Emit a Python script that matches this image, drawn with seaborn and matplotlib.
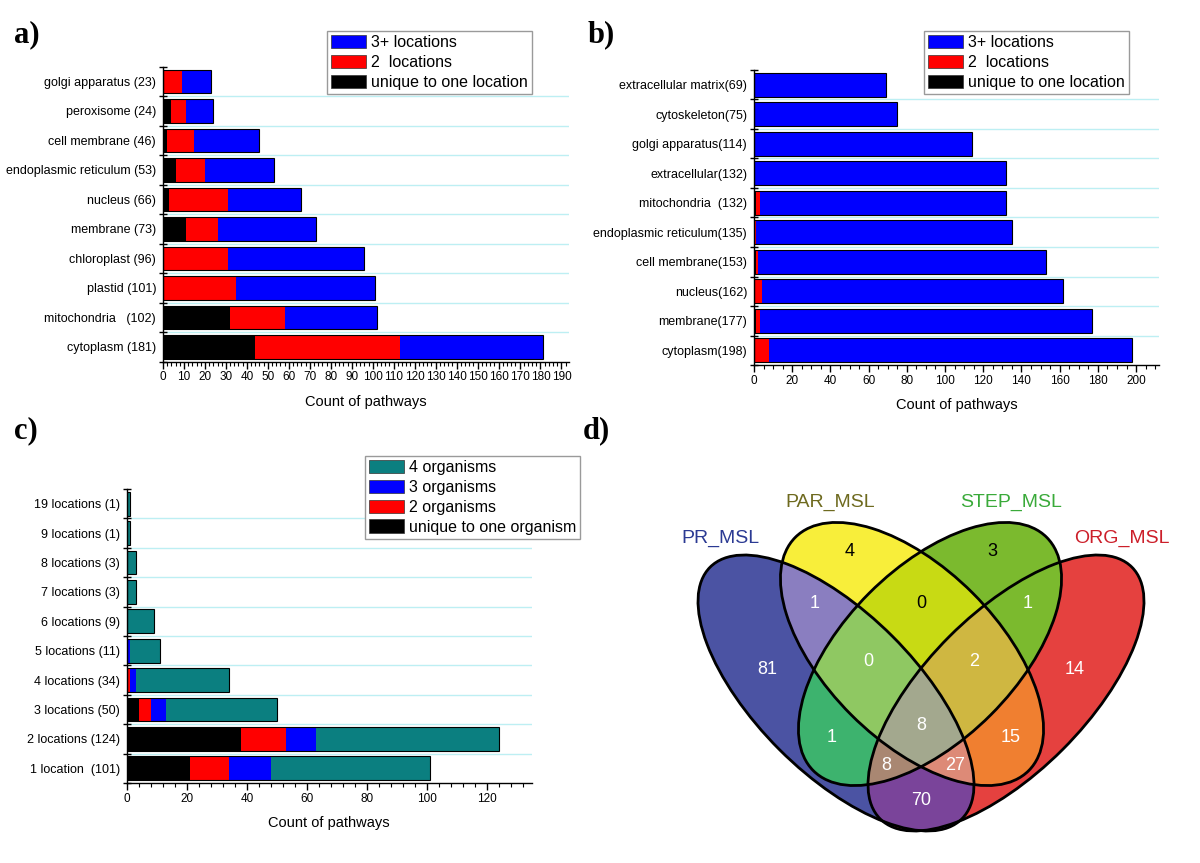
import numpy as np
import pandas as pd
import matplotlib
matplotlib.use("Agg")
import matplotlib.pyplot as plt
from matplotlib.patches import Ellipse, Patch
from matplotlib.colors import to_rgba
from matplotlib.ticker import MultipleLocator
import seaborn as sns

plt.rcParams['font.family'] = ['Liberation Sans', 'DejaVu Sans']

# ---------------- data ----------------
# a) pathways per location (all organisms)
a_labels = ['golgi apparatus (23)', 'peroxisome (24)', 'cell membrane (46)',
            'endoplasmic reticulum (53)', 'nucleus (66)', 'membrane (73)',
            'chloroplast (96)', 'plastid (101)', 'mitochondria   (102)', 'cytoplasm (181)']
a_unique = [0, 4, 2, 6, 3, 11, 0, 0, 32, 44]
a_two = [9, 7, 13, 14, 28, 15, 31, 35, 26, 69]
a_three = [14, 13, 31, 33, 35, 47, 65, 66, 44, 68]

# b) pathways per location
b_labels = ['extracellular matrix(69)', 'cytoskeleton(75)', 'golgi apparatus(114)',
            'extracellular(132)', 'mitochondria  (132)', 'endoplasmic reticulum(135)',
            'cell membrane(153)', 'nucleus(162)', 'membrane(177)', 'cytoplasm(198)']
b_unique = [0, 0, 0, 0, 1, 0, 1, 0, 1, 0]
b_two = [0, 0, 0, 0, 2, 1, 1, 4, 2, 8]
b_three = [69, 75, 114, 132, 129, 134, 151, 158, 174, 190]

loc_legend = ['3+ locations', '2  locations', 'unique to one location']

# c) number of locations per pathway, split by organisms
c_labels = ['19 locations (1)', '9 locations (1)', '8 locations (3)', '7 locations (3)',
            '6 locations (9)', '5 locations (11)', '4 locations (34)', '3 locations (50)',
            '2 locations (124)', '1 location  (101)']
c_unique = [0, 0, 0, 0, 0, 0, 0, 4, 38, 21]
c_two = [0, 0, 0, 0, 0, 0, 1, 4, 15, 13]
c_three = [0, 0, 0, 0, 0, 1, 2, 5, 10, 14]
c_four = [1, 1, 3, 3, 9, 10, 31, 37, 61, 53]

org_legend = ['4 organisms', '3 organisms', '2 organisms', 'unique to one organism']

# d) venn diagram (region bit mask: PR=1, PAR=2, STEP=4, ORG=8)
venn_sets = ['PR_MSL', 'PAR_MSL', 'STEP_MSL', 'ORG_MSL']
venn_masks = [1, 2, 4, 8, 3, 6, 12, 7, 14, 5, 10, 15, 13, 11, 9]
venn_counts = [81, 4, 3, 14, 1, 0, 1, 0, 2, 1, 15, 8, 8, 27, 70]

# ---------------- style ----------------
BLUE, RED, BLACK, TEAL = '#0000FF', '#FF0000', '#000000', '#0B7F80'
GRID = '#BDEFF3'
W, H = 1200, 863

fig = plt.figure(figsize=(12, 8.63), dpi=100)


def box(x0, y0, x1, y1):
    # pixel box with top-left origin -> figure fraction
    return [x0 / W, 1 - y1 / H, (x1 - x0) / W, (y1 - y0) / H]


def stacked_bars(ax, labels, parts, colors, xmax, major, minor):
    n = len(labels)
    cum = np.cumsum(np.array(parts, dtype=float), axis=0)
    df = pd.DataFrame({'label': labels})
    # draw cumulative totals from the longest down so they look stacked
    for k in range(len(parts) - 1, -1, -1):
        df['count'] = cum[k]
        sns.barplot(data=df, x='count', y='label', orient='h', color=colors[k],
                    saturation=1, width=0.81, linewidth=0, errorbar=None, ax=ax)
    df['count'] = cum[-1]
    sns.barplot(data=df, x='count', y='label', orient='h', fill=False, color='black',
                linewidth=0.8, width=0.81, errorbar=None, ax=ax)
    ax.hlines(np.arange(n - 1) + 0.5, 0, xmax, colors=GRID, linewidth=1, zorder=0)
    ax.set_xlim(0, xmax)
    ax.set_ylim(n - 0.5, -0.5)
    ax.xaxis.set_major_locator(MultipleLocator(major))
    ax.xaxis.set_minor_locator(MultipleLocator(minor))
    ax.set_yticks(np.arange(n + 1) - 0.5, minor=True)
    ax.tick_params(axis='y', which='major', length=0, pad=5, labelsize=9)
    ax.tick_params(axis='y', which='minor', length=6, width=1, direction='inout')
    ax.tick_params(axis='x', which='major', length=5, width=1, labelsize=8.5, pad=2)
    ax.tick_params(axis='x', which='minor', length=3, width=0.8)
    for s in ['top', 'right']:
        ax.spines[s].set_visible(False)
    for s in ['left', 'bottom']:
        ax.spines[s].set_linewidth(1)
    ax.set_ylabel('')
    ax.set_xlabel('Count of pathways', fontsize=10.5, labelpad=8)


def add_legend(ax, names, colors, x0, y0):
    handles = [Patch(facecolor=c, edgecolor='#333333', linewidth=0.5) for c in colors]
    ax.legend(handles, names, loc='upper left', bbox_to_anchor=(x0 / W, 1 - y0 / H),
              bbox_transform=fig.transFigure, fontsize=11.5, frameon=True, fancybox=False,
              edgecolor='#9a9a9a', framealpha=1, borderpad=0.25, labelspacing=0.3,
              handlelength=2.2, handleheight=0.9, handletextpad=0.3, borderaxespad=0)


# a)
ax_a = fig.add_axes(box(163, 66.7, 569, 361.7))
stacked_bars(ax_a, a_labels, [a_unique, a_two, a_three], [BLACK, RED, BLUE], 193.6, 10, 2)
add_legend(ax_a, loc_legend, [BLUE, RED, BLACK], 327, 30.7)

# b)
ax_b = fig.add_axes(box(754, 70, 1159, 365))
stacked_bars(ax_b, b_labels, [b_unique, b_two, b_three], [BLACK, RED, BLUE], 212, 20, 5)
add_legend(ax_b, loc_legend, [BLUE, RED, BLACK], 924, 30.7)

# c)
ax_c = fig.add_axes(box(126.8, 489, 531.6, 783))
stacked_bars(ax_c, c_labels, [c_unique, c_two, c_three, c_four],
             [BLACK, RED, BLUE, TEAL], 134.8, 20, 4)
add_legend(ax_c, org_legend, [TEAL, BLUE, RED, BLACK], 365, 455.7)

# d) venn, drawn in pixel coordinates (y down)
ax_d = fig.add_axes(box(600, 470, 1200, 863))
ellipses = [((836, 693), 178, 80, 45),    # PR
            ((912, 654), 165, 86, 45),    # PAR
            ((930, 654), 165, 86, -45),   # STEP
            ((1006, 693), 178, 80, -45)]  # ORG
region_colors = {1: '#4B53A3', 2: '#F8EE3A', 4: '#7BBA2E', 8: '#E5413F',
                 3: '#8A7EC0', 6: '#C8DA14', 12: '#7BBA2E', 7: '#8FC862',
                 14: '#CFB741', 5: '#3DB36E', 10: '#F07F30', 15: '#A3A88E',
                 13: '#A98772', 11: '#DD8A77', 9: '#7A449A'}
xs = np.linspace(600, 1200, 1200)
ys = np.linspace(470, 863, 786)
X, Y = np.meshgrid(xs, ys)
mask = np.zeros(X.shape, dtype=int)
for bit, ((cx, cy), a, b, ang) in enumerate(ellipses):
    t = np.deg2rad(ang)
    dx, dy = X - cx, Y - cy
    u = dx * np.cos(t) + dy * np.sin(t)
    v = -dx * np.sin(t) + dy * np.cos(t)
    mask |= (((u / a) ** 2 + (v / b) ** 2) <= 1).astype(int) << bit
img = np.zeros(X.shape + (4,))
for m, col in region_colors.items():
    img[mask == m] = to_rgba(col)
ax_d.imshow(img, extent=(600, 1200, 863, 470), origin='upper', aspect='auto',
            interpolation='nearest')
for (c, a, b, ang) in ellipses:
    ax_d.add_patch(Ellipse(c, 2 * a, 2 * b, angle=ang, fill=False,
                           edgecolor='black', linewidth=2))

count_pos = {1: (767.5, 669), 2: (849.5, 552), 4: (992.5, 552), 8: (1074.5, 669),
             3: (814.5, 603), 6: (921, 603), 12: (1027.5, 603), 7: (868, 661),
             14: (974, 661), 5: (831.5, 738), 10: (1010.5, 738), 15: (921, 725),
             13: (886.5, 765), 11: (955.5, 765), 9: (921, 800)}
dark_text = {2, 4, 6}
for m, n in zip(venn_masks, venn_counts):
    x, y = count_pos[m]
    ax_d.text(x, y, str(n), ha='center', va='center', fontsize=13,
              color='black' if m in dark_text else 'white')

set_pos = [(720.5, 538), (830.5, 502), (1011.5, 502), (1121.5, 538)]
set_colors = ['#2B3A93', '#6E6A1F', '#3AAA3A', '#CC1F2A']
for name, (x, y), col in zip(venn_sets, set_pos, set_colors):
    ax_d.text(x, y, name, ha='center', va='center', fontsize=14, color=col)

ax_d.set_xlim(600, 1200)
ax_d.set_ylim(863, 470)
ax_d.axis('off')

# panel letters
for lab, x, y in [('a)', 14, 35), ('b)', 588, 35), ('c)', 14, 431), ('d)', 583, 431)]:
    fig.text(x / W, 1 - y / H, lab, fontsize=22, fontweight='bold',
             family=['Liberation Serif', 'DejaVu Serif'], ha='left', va='center')

fig.savefig('out.png', dpi=100)
